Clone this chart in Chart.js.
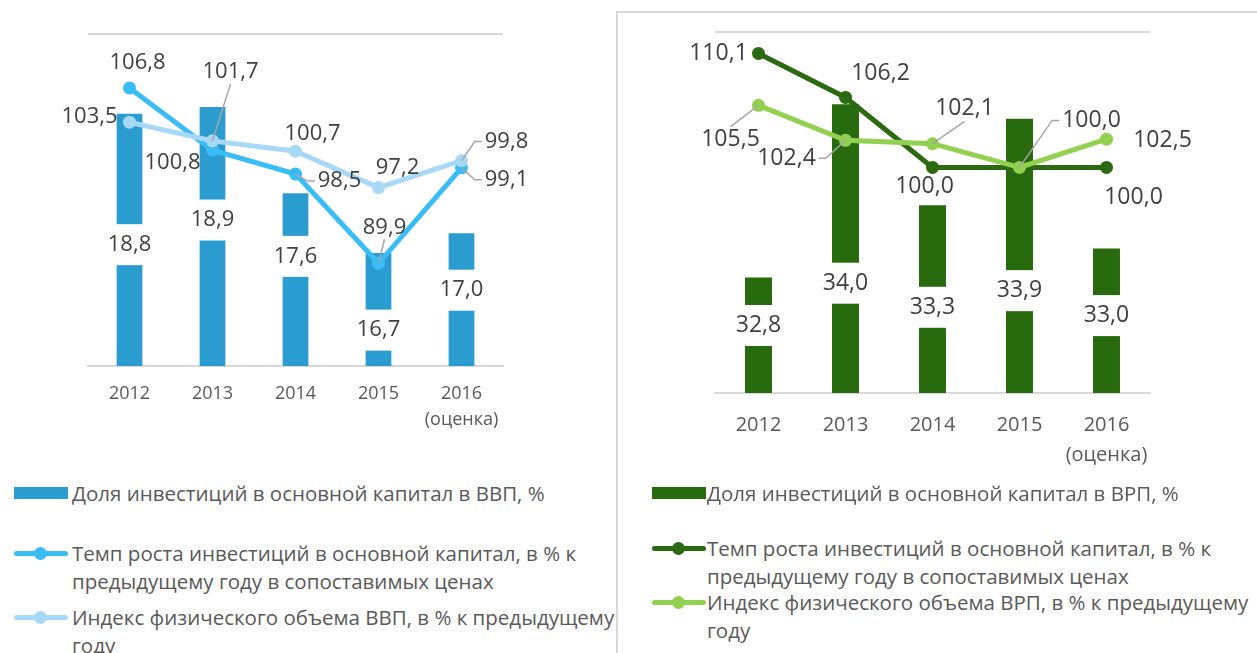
<!DOCTYPE html>
<html>
<head>
<meta charset="utf-8">
<script src="https://cdn.jsdelivr.net/npm/chart.js@4/dist/chart.umd.min.js"></script>
<style>
  body { margin: 0; width: 1257px; height: 653px; overflow: hidden; background: #fff; font-family: 'Open Sans', sans-serif; }
  canvas { position: absolute; }
  #frame { position: absolute; left: 616px; top: 11px; width: 700px; height: 700px; border-left: 2px solid #d9d9d9; border-top: 2px solid #d9d9d9; }
  .lg { position: absolute; color: #595959; font-size: 20.5px; line-height: 28px; white-space: pre; }
  .sw { position: absolute; }
</style>
</head>
<body>
<div id="frame"></div>
<canvas id="left" width="615" height="440" style="left:0;top:0"></canvas>
<canvas id="right" width="637" height="480" style="left:620px;top:0"></canvas>
<div id="legends"></div>

<script>
const years = ['2012', '2013', '2014', '2015', ['2016', '(оценка)']];

// Россия
const gdpShare = [18.8, 18.9, 17.6, 16.7, 17.0];
const gdpInvGrowth = [106.8, 100.8, 98.5, 89.9, 99.1];
const gdpIndex = [103.5, 101.7, 100.7, 97.2, 99.8];

// регион
const grpShare = [32.8, 34.0, 33.3, 33.9, 33.0];
const grpInvGrowth = [110.1, 106.2, 100.0, 100.0, 100.0];
const grpIndex = [105.5, 102.4, 102.1, 100.0, 102.5];

// where the labels sit: bars - px below bar top, lines - [dx, dy, leader]
const gdpShareLbl = [131, 113, 63, 77, 57];
const gdpGrowthLbl = [[8, -25], [-40, 13], [44, 7, 1], [6, -36, 1], [45, 12, 1]];
const gdpIndexLbl = [[-40, -5], [18, -69, 1], [17, -18], [19, -20], [45, -19, 1]];
const grpShareLbl = [48, 179, 102, 172, 67];
const grpGrowthLbl = [[-40, 0], [35, -24], [-8, 19], null, [27, 30]];
const grpIndexLbl = [[-28, 34, 1], [-59, 18, 1], [32, -35, 1], [72, -47, 1], [56, 1]];

function fmt(v) { return v.toFixed(1).replace('.', ','); }

function drawLeader(ctx, px, py, lx, ly, w, size) {
  const dx = lx - px, dy = ly - py;
  const halfW = w / 2 + 3, halfH = size * 0.55;
  ctx.strokeStyle = '#a6a6a6';
  ctx.lineWidth = 1.5;
  ctx.beginPath();
  ctx.moveTo(px, py);
  if (Math.abs(dy) > Math.abs(dx) * 0.9) {
    ctx.lineTo(lx, ly - Math.sign(dy) * halfH);
  } else {
    const s = Math.sign(dx);
    const ax = lx - s * halfW;
    ctx.lineTo(ax - s * 7, ly);
    ctx.lineTo(ax, ly);
  }
  ctx.stroke();
}

const valueLabels = {
  id: 'valueLabels',
  afterDatasetsDraw(chart) {
    const ctx = chart.ctx;
    const size = chart.options.plugins.valueLabels.size;
    ctx.save();
    ctx.font = size + 'px "Open Sans"';
    ctx.textAlign = 'center';
    ctx.textBaseline = 'middle';
    chart.data.datasets.forEach((ds, i) => {
      const meta = chart.getDatasetMeta(i);
      meta.data.forEach((el, j) => {
        const pos = ds.labelPos[j];
        if (pos == null) return;
        const text = fmt(ds.data[j]);
        const w = ctx.measureText(text).width;
        if (ds.type === 'bar') {
          const y = el.y + pos;
          const bw = Math.max(w, el.width) + 8;
          ctx.fillStyle = '#fff';
          ctx.fillRect(el.x - bw / 2, y - 20.5, bw, 41);
          ctx.fillStyle = '#404040';
          ctx.fillText(text, el.x, y);
        } else {
          const lx = el.x + pos[0], ly = el.y + pos[1];
          if (pos[2]) drawLeader(ctx, el.x, el.y, lx, ly, w, size);
          ctx.fillStyle = '#404040';
          ctx.fillText(text, lx, ly);
        }
      });
    });
    ctx.restore();
  }
};

function makeChart(id, s) {
  return new Chart(document.getElementById(id), {
    data: {
      labels: years,
      datasets: [
        { type: 'bar', label: s.labels[0], data: s.share, labelPos: s.shareLbl, yAxisID: 'y',
          backgroundColor: s.colors[0], barPercentage: s.barPct, categoryPercentage: 1, order: 3 },
        { type: 'line', label: s.labels[1], data: s.growth, labelPos: s.growthLbl, yAxisID: 'y2',
          borderColor: s.colors[1], backgroundColor: s.colors[1], borderWidth: s.lineW,
          pointRadius: 6.5, pointBorderWidth: 0, order: 2 },
        { type: 'line', label: s.labels[2], data: s.index, labelPos: s.indexLbl, yAxisID: 'y2',
          borderColor: s.colors[2], backgroundColor: s.colors[2], borderWidth: s.lineW,
          pointRadius: 6.5, pointBorderWidth: 0, order: 1 }
      ]
    },
    options: {
      responsive: false,
      animation: false,
      devicePixelRatio: 1,
      layout: { padding: s.padding },
      plugins: { legend: { display: false }, tooltip: { enabled: false }, valueLabels: { size: s.labelSize } },
      scales: {
        x: {
          grid: { display: false },
          border: { color: '#d9d9d9', width: 2 },
          ticks: { color: '#595959', font: { family: 'Open Sans', size: s.tickSize, lineHeight: s.tickLine },
                   padding: s.tickPad, maxRotation: 0, minRotation: 0, autoSkip: false },
          afterFit(scale) { scale.height = s.axisH; }
        },
        y: {
          position: 'left', min: s.barRange[0], max: s.barRange[1],
          ticks: { display: false, stepSize: s.barRange[1] - s.barRange[0] },
          grid: { color: '#d9d9d9', lineWidth: 2, drawTicks: false },
          border: { display: false },
          afterFit(scale) { scale.width = 0; }
        },
        y2: { display: false, min: 80, max: 112 }
      }
    },
    plugins: [valueLabels]
  });
}

const leftChart = makeChart('left', {
  share: gdpShare, growth: gdpInvGrowth, index: gdpIndex,
  shareLbl: gdpShareLbl, growthLbl: gdpGrowthLbl, indexLbl: gdpIndexLbl,
  labels: ['Доля инвестиций в основной капитал в ВВП, %',
           'Темп роста инвестиций в основной капитал, в % к\nпредыдущему году в сопоставимых ценах',
           'Индекс физического объема ВВП, в % к предыдущему\nгоду'],
  colors: ['#2a9cd0', '#38bdf6', '#a8d8f8'],
  barPct: 0.31, lineW: 5, labelSize: 22,
  padding: { left: 88, right: 112, top: 34, bottom: 0 },
  tickSize: 18, tickLine: 26 / 18, tickPad: 7, axisH: 74,
  barRange: [15, 20]
});

const rightChart = makeChart('right', {
  share: grpShare, growth: grpInvGrowth, index: grpIndex,
  shareLbl: grpShareLbl, growthLbl: grpGrowthLbl, indexLbl: grpIndexLbl,
  labels: ['Доля инвестиций в основной капитал в ВРП, %',
           'Темп роста инвестиций в основной капитал, в % к\nпредыдущему году в сопоставимых ценах',
           'Индекс физического объема ВРП, в % к предыдущему\nгоду'],
  colors: ['#286a0e', '#2b6a10', '#92d050'],
  barPct: 0.31, lineW: 5, labelSize: 23,
  padding: { left: 95, right: 107, top: 32, bottom: 0 },
  tickSize: 20, tickLine: 30 / 20, tickPad: 9, axisH: 87,
  barRange: [32, 34.5]
});

// html legend, built from the datasets
function buildLegend(chart, swX, textX, centers) {
  const box = document.getElementById('legends');
  chart.data.datasets.forEach((ds, i) => {
    const c = centers[i];
    if (ds.type === 'bar') {
      box.insertAdjacentHTML('beforeend',
        `<div class="sw" style="left:${swX}px;top:${c - 6}px;width:54px;height:12px;background:${ds.backgroundColor}"></div>`);
    } else {
      box.insertAdjacentHTML('beforeend',
        `<div class="sw" style="left:${swX}px;top:${c - 2.5}px;width:54px;height:5px;border-radius:3px;background:${ds.borderColor}"></div>` +
        `<div class="sw" style="left:${swX + 20}px;top:${c - 6.5}px;width:13px;height:13px;border-radius:50%;background:${ds.borderColor}"></div>`);
    }
    const d = document.createElement('div');
    d.className = 'lg';
    d.style.left = textX + 'px';
    d.style.top = (c - 14) + 'px';
    d.textContent = ds.label;
    box.appendChild(d);
  });
}

buildLegend(leftChart, 14, 72, [493, 553, 617]);
buildLegend(rightChart, 652, 707, [493, 548, 602]);
</script>
</body>
</html>
